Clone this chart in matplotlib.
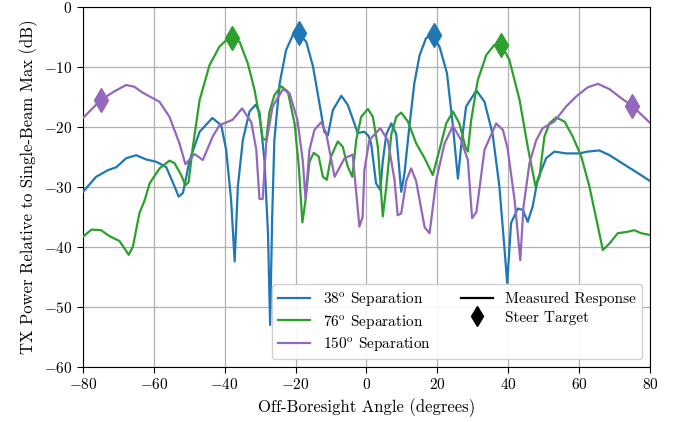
import numpy as np
import matplotlib
matplotlib.use("Agg")
import matplotlib.pyplot as plt
from matplotlib.lines import Line2D

plt.rcParams["font.family"] = "serif"
plt.rcParams["font.serif"] = ["cmr10"]
plt.rcParams["mathtext.fontset"] = "cm"
plt.rcParams["axes.formatter.use_mathtext"] = True

# measured responses (angle in degrees, power in dB)
ang_38 = [-80, -76.3, -73, -70.6, -67.8, -65, -62.2, -59.3, -56.5, -54.6, -53, -51.8, -49.9, -47.1,
          -43.5, -41, -39.6, -38.2, -37.2, -36.3, -34.9, -33, -31.3, -30.2, -28.8, -27.8, -27.2,
          -26.6, -26, -24.5, -22.7, -20.8, -19.2, -17, -15.1, -13.3, -11.9, -10.9, -9.5, -7.1,
          -5.3, -3.9, -2.5, -0.6, 0.6, 1.3, 2.7, 3.9, 4.6, 5.6, 7, 8.4, 9.8, 10.7, 12.1, 13.5,
          15, 16.8, 18.5, 20.6, 22.7, 24.4, 25.8, 26.7, 28.1, 31, 33.3, 35.6, 37.5, 38.9, 39.7,
          40.8, 42.7, 44.1, 45.5, 46.9, 48.3, 50.7, 53, 56.3, 60.1, 62.4, 65.7, 68.6, 72.3, 76.1, 80]
pwr_38 = [-30.8, -28.3, -27.2, -26.7, -25.2, -24.7, -25.4, -25.8, -26.7, -29.3, -31.6, -31, -25.5,
          -20.8, -18.5, -19.7, -23.8, -32.2, -42.4, -29.9, -22.2, -17.4, -16.3, -17.5, -25.5, -37.7,
          -53, -34.6, -22.2, -12.7, -7.2, -4.7, -4.4, -5.8, -9.9, -16, -20.8, -21.4, -17.2, -14.8,
          -16.3, -18.6, -21, -20.8, -21.5, -22.7, -29.4, -30.5, -25.7, -21.2, -19.4, -21.2, -30.8,
          -27.8, -19.9, -12.7, -8, -5.2, -4.6, -6.6, -11, -19.9, -28.6, -23.3, -16.6, -13.9, -15.8,
          -21.2, -29.9, -40, -46, -36, -33.6, -33.8, -35.8, -33.2, -28.8, -25.2, -24.1, -24.4,
          -24.4, -24.1, -23.9, -24.7, -26.1, -27.5, -29]

ang_76 = [-80, -77.6, -74.9, -72.5, -69.7, -67.1, -65.9, -64.1, -62.6, -61.2, -58.4, -55.6, -54.2,
          -52.3, -51.1, -50.2, -49, -47.1, -44.3, -41.5, -39.5, -38, -35.8, -33.5, -31.6, -30.2,
          -29.3, -28.3, -27.4, -26, -24.1, -22.2, -20.3, -19.1, -18.1, -17.2, -16.1, -14.9, -13.5,
          -12.3, -11.2, -10, -8.1, -6.7, -5.3, -4, -2.9, -1.5, 0.4, 1.8, 3.2, 4.6, 5.6, 7, 8.4,
          9.8, 11.7, 14, 16.4, 18.7, 20.6, 22.5, 24.4, 26.2, 27.9, 28.6, 29.5, 31.4, 33.8, 36.1,
          38, 40.3, 43.2, 45.5, 47.7, 48.8, 50.2, 51.6, 53.5, 55.9, 58.2, 60.6, 62.9, 65.3, 66.7,
          68.6, 70.9, 73.3, 75.6, 77.5, 80]
pwr_76 = [-38.3, -37.1, -37.2, -38.2, -39, -41.3, -39.9, -34.4, -32.2, -29.4, -26.9, -25.6, -26,
          -28, -29.7, -29.2, -23.3, -15.5, -9.7, -6.6, -5.5, -5.2, -5.8, -9.4, -13.8, -18.3, -21.9,
          -22.2, -17.5, -14.7, -13.2, -14.1, -19.4, -26.6, -35.9, -32.2, -25.8, -24.3, -24.9,
          -28.3, -28.8, -24.9, -22.4, -23.3, -26.6, -28.3, -22.2, -18.3, -17, -18.3, -23.3, -34.9,
          -29.9, -21.2, -18.3, -17.6, -19.1, -22.7, -25.2, -28, -23.8, -19.4, -17.4, -19.4, -23.3,
          -24.1, -19, -12.2, -8, -6.3, -6.3, -8.8, -15.5, -23.3, -29.9, -28.3, -21.6, -19.4, -18.4,
          -19.1, -21.6, -24.9, -29.9, -36.6, -40.5, -39.4, -37.7, -37.5, -37.2, -37.7, -38]

ang_150 = [-80, -75, -71, -67.8, -65.5, -63.1, -58.4, -55.6, -52.8, -51.1, -48.5, -46.2, -43.4,
           -41.5, -37.8, -35.1, -32.5, -31.1, -30.2, -29.3, -28.3, -26.5, -23.6, -21.7, -19.5, -18,
           -17.2, -16.1, -14.7, -12.8, -11.4, -9, -6.2, -3.9, -2, -1.1, -0.6, 0.8, 3.9, 6, 7.9,
           8.8, 9.8, 11.2, 12.6, 14, 16.4, 17.8, 19.7, 22, 24.4, 26.7, 28.6, 29.8, 31, 33.3, 36.6,
           38.5, 39.8, 41.8, 43.4, 44.3, 46, 47.9, 49.7, 53, 56.3, 59.2, 62.4, 65.3, 68.6, 71.9,
           75, 80]
pwr_150 = [-18.5, -15.5, -14, -13, -13.3, -14.3, -15.8, -18.3, -22.7, -26.2, -24.5, -25.5, -21.6,
           -19.7, -18.8, -16.9, -19.2, -23.8, -32, -32, -22.7, -16.6, -13.7, -14.4, -18.8, -25.5,
           -32, -23.8, -20.5, -19.2, -21, -28.3, -25.2, -24.6, -36.6, -35, -27.2, -22.2, -20.2,
           -22.2, -28.8, -34.7, -34.4, -29, -26.9, -29, -36.7, -37.7, -28.8, -22.8, -19.8, -22.2,
           -25.5, -35.2, -34.2, -23.8, -19.4, -20.5, -23.5, -32.2, -42.2, -33.3, -26, -22.2, -20.2,
           -19.1, -16.6, -14.9, -13.4, -12.8, -13.7, -15.2, -16.5, -19.3]

# steer targets
tgt_ang_38, tgt_pwr_38 = [-19, 19], [-4.4, -4.6]
tgt_ang_76, tgt_pwr_76 = [-38, 38], [-5.2, -6.3]
tgt_ang_150, tgt_pwr_150 = [-75, 75], [-15.5, -16.5]

series = [
    (ang_38, pwr_38, tgt_ang_38, tgt_pwr_38, "#1f77b4", r"38$^{\mathrm{o}}$ Separation"),
    (ang_76, pwr_76, tgt_ang_76, tgt_pwr_76, "#2ca02c", r"76$^{\mathrm{o}}$ Separation"),
    (ang_150, pwr_150, tgt_ang_150, tgt_pwr_150, "#9467bd", r"150$^{\mathrm{o}}$ Separation"),
]

fig = plt.figure(figsize=(6.77, 4.22), dpi=100)
ax = fig.add_axes([0.1226, 0.1303, 0.8375, 0.8531])

handles = []
for a, p, ta, tp, c, lab in series:
    ax.plot(a, p, color=c, lw=1.6, zorder=3)
    ax.plot(ta, tp, ls="none", marker="d", ms=12, color=c, zorder=4)
    handles.append(Line2D([], [], color=c, lw=1.6, label=lab))
handles.append(Line2D([], [], color="black", lw=1.6, label="Measured Response"))
handles.append(Line2D([], [], color="black", ls="none", marker="d", ms=10, label="Steer Target"))

ax.set_xlim(-80, 80)
ax.set_ylim(-60, 0)
ax.set_xticks(np.arange(-80, 81, 20))
ax.set_yticks(np.arange(-60, 1, 10))
ax.grid(True, color="#b0b0b0", lw=0.9)
ax.set_axisbelow(True)
ax.tick_params(labelsize=11, direction="out", length=4)
ax.set_xlabel("Off-Boresight Angle (degrees)", fontsize=12)
ax.set_ylabel("TX Power Relative to Single-Beam Max (dB)", fontsize=12)
ax.legend(handles=handles, ncol=2, loc="lower right", fontsize=11,
          handlelength=2.1, columnspacing=2.0, labelspacing=0.3, borderpad=0.4, framealpha=0.9)

plt.savefig("out.png", dpi=100, facecolor="white")
